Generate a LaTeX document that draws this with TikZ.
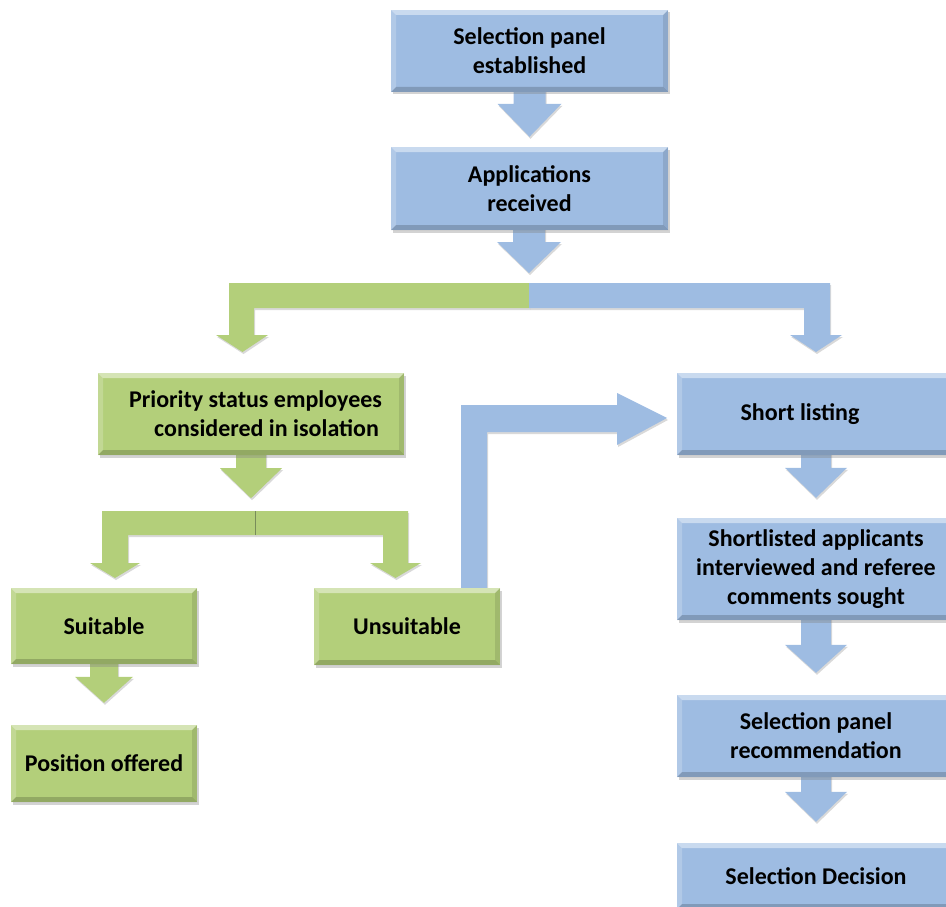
\documentclass[tikz,border=0pt]{standalone}
\usepackage{fontspec}
\setmainfont{Carlito}
\usetikzlibrary{shadows,backgrounds,calc}
\definecolor{boxblue}{RGB}{158,188,226}
\definecolor{boxgreen}{RGB}{179,207,122}
\definecolor{splitline}{RGB}{120,140,90}
\tikzset{
  bevel/.style={path picture={
    \fill[white,opacity=.45] (path picture bounding box.north west) -- (path picture bounding box.north east)
      -- ([shift={(-5pt,-5pt)}]path picture bounding box.north east) -- ([shift={(5pt,-5pt)}]path picture bounding box.north west) -- cycle;
    \fill[white,opacity=.2] (path picture bounding box.north west) -- ([shift={(5pt,-5pt)}]path picture bounding box.north west)
      -- ([shift={(5pt,5pt)}]path picture bounding box.south west) -- (path picture bounding box.south west) -- cycle;
    \fill[black,opacity=.18] (path picture bounding box.south west) -- (path picture bounding box.south east)
      -- ([shift={(-5pt,5pt)}]path picture bounding box.south east) -- ([shift={(5pt,5pt)}]path picture bounding box.south west) -- cycle;
    \fill[black,opacity=.1] (path picture bounding box.north east) -- (path picture bounding box.south east)
      -- ([shift={(-5pt,5pt)}]path picture bounding box.south east) -- ([shift={(-5pt,-5pt)}]path picture bounding box.north east) -- cycle;
  }},
  box/.style={rectangle, minimum height=82pt, inner sep=2pt, align=center,
    font=\fontsize{24}{29}\selectfont\bfseries, text=black,
    drop shadow={shadow xshift=1.5pt,shadow yshift=-2.5pt,opacity=.35}, bevel},
  bluebox/.style={box, fill=boxblue},
  greenbox/.style={box, fill=boxgreen},
  blockarrow/.style={drop shadow={shadow xshift=1pt,shadow yshift=-2pt,opacity=.3}},
}
% #1 colour, #2 start, #3 tip, #4 shaft half width, #5 head half width, #6 head length
\newcommand\dnarrow[6]{%
  \path[fill=#1, blockarrow] let \p1=(#2), \p2=(#3) in
    (\x2-#4,\y1) -- (\x2+#4,\y1) -- (\x2+#4,\y2+#6) -- (\x2+#5,\y2+#6) -- (\x2,\y2)
    -- (\x2-#5,\y2+#6) -- (\x2-#4,\y2+#6) -- cycle;}

\begin{document}
\begin{tikzpicture}[x=1pt,y=-1pt]
\useasboundingbox (0,0) rectangle (946,907);
\clip (0,0) rectangle (946,907);

% boxes
\node[bluebox, minimum width=277pt] (b1) at (529.5,51) {Selection panel\\established};
\node[bluebox, minimum width=277pt, minimum height=83pt] (b2) at (529.5,188.5) {Applications\\received};
\node[greenbox, minimum width=306pt, align=right] (g1) at (251,414) {\hspace*{9pt}Priority status employees\\considered in isolation\hspace*{3pt}};
\node[greenbox, minimum width=186pt, minimum height=76pt] (g2) at (104,626) {Suitable};
\node[greenbox, minimum width=186pt, minimum height=77pt] (g3) at (407,626.5) {Unsuitable};
\node[greenbox, minimum width=186pt, minimum height=77pt] (g4) at (104,763.5) {Position offered};
\node[bluebox, minimum width=278pt] (s1) at (816,414) {Short listing\hspace*{32pt}};
\node[bluebox, minimum width=278pt, minimum height=102pt] (s2) at (816,569) {Shortlisted applicants\\interviewed and referee\\comments sought};
\node[bluebox, minimum width=278pt] (s3) at (816,736) {Selection panel\\recommendation};
\node[bluebox, minimum width=278pt, minimum height=66pt] (s4) at (816,876) {Selection Decision};

\coordinate (split1) at (529,283);
\coordinate (split2) at (255,511);

\begin{scope}[on background layer]
% straight block arrows
\dnarrow{boxblue}{$(b1.south)+(0,-6)$}{$(b2.north)+(0,-10)$}{16pt}{32pt}{33pt}
\dnarrow{boxblue}{$(b2.south)+(0,-6)$}{$(split1)+(0,-10)$}{16pt}{32pt}{31pt}
\dnarrow{boxgreen}{$(g1.south)+(0,-6)$}{$(g1.south)+(0,43)$}{15pt}{31pt}{30pt}
\dnarrow{boxgreen}{$(g2.south)+(0,-6)$}{$(g4.north)+(0,-22)$}{14pt}{29pt}{26pt}
\dnarrow{boxblue}{$(s1.south)+(0,-6)$}{$(s2.north)+(0,-20)$}{15pt}{31pt}{30pt}
\dnarrow{boxblue}{$(s2.south)+(0,-6)$}{$(s3.north)+(0,-22)$}{15pt}{31pt}{28pt}
\dnarrow{boxblue}{$(s3.south)+(0,-6)$}{$(s4.north)+(0,-21)$}{15pt}{31pt}{30pt}

% first branch: green half to the left, blue half to the right
\path[fill=boxgreen, blockarrow] (split1) -- (229,283) -- (229,335) -- (216,335) -- (242.5,352)
  -- (268,335) -- (254,335) -- (254,308) -- (529,308) -- cycle;
\path[fill=boxblue, blockarrow] (split1) -- (830,283) -- (830,335) -- (842,335) -- (816,352)
  -- (790,335) -- (804,335) -- (804,308) -- (529,308) -- cycle;

% second branch (green)
\path[fill=boxgreen, blockarrow] (split2) -- (102,511) -- (102,563) -- (90,563) -- (115,578)
  -- (140,563) -- (128,563) -- (128,535) -- (255,535) -- cycle;
\path[fill=boxgreen, blockarrow] (split2) -- (408,511) -- (408,563) -- (421,563) -- (395.5,578)
  -- (370,563) -- (383,563) -- (383,535) -- (255,535) -- cycle;
\draw[splitline, line width=0.8pt] (split2) -- (255,535);

% elbow arrow from Unsuitable to Short listing
\path[fill=boxblue, blockarrow] (461,592) -- (461,405) -- (617,405) -- (617,393) -- (667,418)
  -- (617,445) -- (617,432) -- (487,432) -- (487,592) -- cycle;
\end{scope}
\end{tikzpicture}
\end{document}
